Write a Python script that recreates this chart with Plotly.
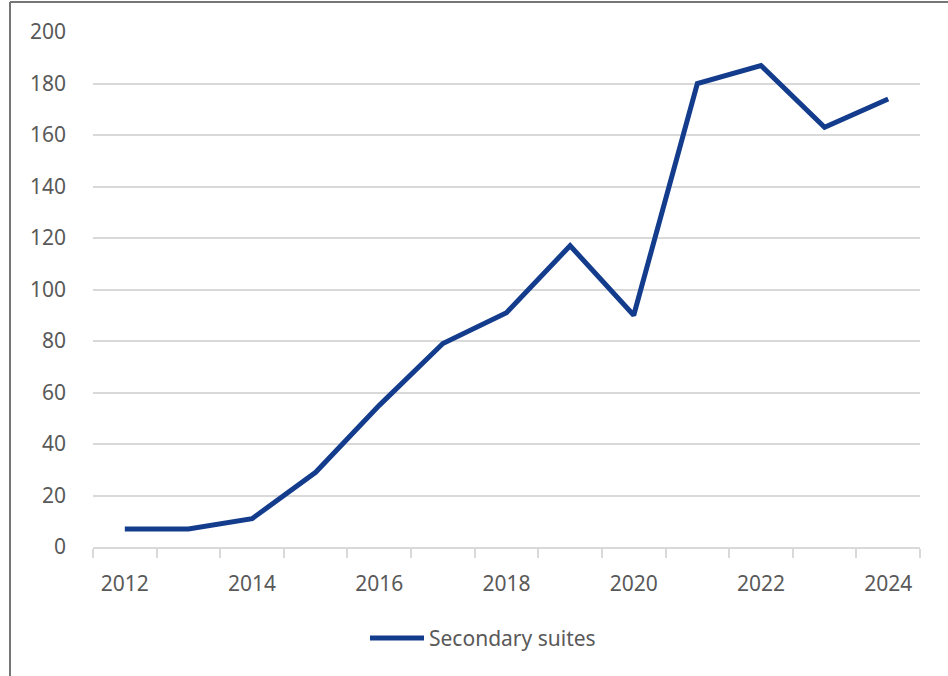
import plotly.graph_objects as go

years = [2012, 2013, 2014, 2015, 2016, 2017, 2018, 2019, 2020, 2021, 2022, 2023, 2024]
secondary_suites = [7, 7, 11, 29, 55, 79, 91, 117, 90, 180, 187, 163, 174]
x_tick_labels = ["2012", "2014", "2016", "2018", "2020", "2022", "2024"]
x_tick_vals = [2012, 2014, 2016, 2018, 2020, 2022, 2024]
series_name = "Secondary suites"
boundaries = [y - 0.5 for y in years] + [years[-1] + 0.5]

W, H = 948, 676
L, R, T, B = 93, 28, 32, 129
pw, ph = W - L - R, H - T - B
LINE_COLOR = "#143c8c"

def px_x(x):
    return (x - L) / pw

def px_y(y):
    return (T + ph - y) / ph

fig = go.Figure()
fig.add_trace(go.Scatter(
    x=years, y=secondary_suites, mode="lines", name=series_name,
    line=dict(color=LINE_COLOR, width=5), showlegend=False,
))

font = dict(family="Noto Sans, sans-serif", size=21, color="#595959")

fig.update_layout(
    width=W, height=H,
    margin=dict(l=L, r=R, t=T, b=B),
    paper_bgcolor="white", plot_bgcolor="white",
    font=font,
    xaxis=dict(
        range=[2011.5, 2024.5], tickvals=x_tick_vals, ticktext=x_tick_labels,
        ticks="", showgrid=False, zeroline=False,
        showline=True, linecolor="#d9d9d9", linewidth=2,
        ticklabelstandoff=17,
        minor=dict(tickvals=boundaries, ticks="outside", ticklen=9,
                   tickcolor="#d9d9d9", tickwidth=2, showgrid=False),
    ),
    yaxis=dict(
        range=[0, 200], tickvals=list(range(0, 201, 20)), ticks="",
        showgrid=True, gridcolor="#d9d9d9", gridwidth=1.5, zeroline=False,
        showline=False, ticklabelstandoff=26,
    ),
    shapes=[
        # chart border (left and top)
        dict(type="line", xref="paper", yref="paper",
             x0=px_x(10), x1=px_x(10), y0=px_y(690), y1=px_y(2),
             line=dict(color="#767676", width=2)),
        dict(type="line", xref="paper", yref="paper",
             x0=px_x(10), x1=px_x(960), y0=px_y(2), y1=px_y(2),
             line=dict(color="#767676", width=2)),
        # legend sample line
        dict(type="line", xref="paper", yref="paper",
             x0=px_x(370), x1=px_x(424), y0=px_y(638), y1=px_y(638),
             line=dict(color=LINE_COLOR, width=5)),
    ],
    annotations=[
        dict(xref="paper", yref="paper", x=px_x(427), y=px_y(638),
             xanchor="left", yanchor="middle", text=series_name,
             showarrow=False, font=font),
    ],
)

fig.write_html("out.html")
